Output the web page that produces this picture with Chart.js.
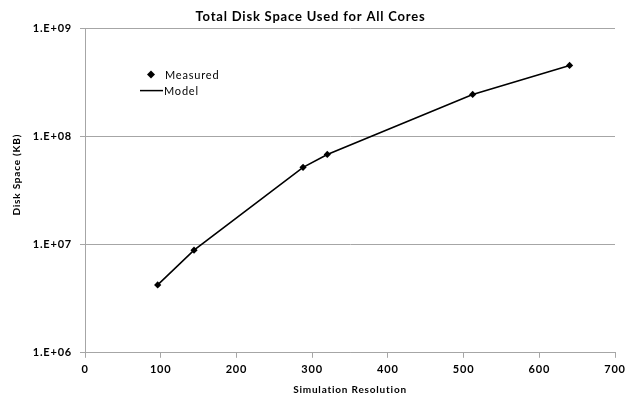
<!DOCTYPE html>
<html>
<head>
<meta charset="utf-8">
<script src="https://cdn.jsdelivr.net/npm/chart.js@4/dist/chart.umd.min.js"></script>
<style>
  html, body { margin: 0; padding: 0; background: #fff; }
  #wrap { width: 632px; height: 396px; }
</style>
</head>
<body>
<div id="wrap"><canvas id="c" width="632" height="396"></canvas></div>
<script>
// Simulation resolution and total disk space (KB) summed over all cores
const resolutions = [96, 144, 288, 320, 512, 640];
const measuredKB  = [4.25e6, 8.9e6, 5.2e7, 6.85e7, 2.46e8, 4.56e8];
const modelKB     = [4.25e6, 8.9e6, 5.2e7, 6.85e7, 2.46e8, 4.56e8];
const yTickValues = [1e6, 1e7, 1e8, 1e9];
const yTickLabels = ['1.E+06', '1.E+07', '1.E+08', '1.E+09'];
const seriesNames = ['Measured', 'Model'];
const yAxisTitle  = 'Disk Space (KB)';

const FONT = '"Lato", "Open Sans", sans-serif';
const GRID = '#a6a6a6';
const SPACING = '0.8px';

// Slightly tracked-out lettering for every text on the canvas
const tracking = {
  id: 'tracking',
  beforeLayout(chart) { chart.ctx.letterSpacing = SPACING; },
  beforeDraw(chart) { chart.ctx.letterSpacing = SPACING; }
};

// Rotated y axis title, placed a little above the axis middle
const yTitle = {
  id: 'yTitle',
  afterDraw(chart) {
    const ctx = chart.ctx;
    const a = chart.chartArea;
    ctx.save();
    ctx.font = 'bold 10px ' + FONT;
    ctx.letterSpacing = SPACING;
    ctx.fillStyle = '#000';
    ctx.textAlign = 'center';
    ctx.textBaseline = 'middle';
    ctx.translate(17, (a.top + a.bottom) / 2 - 16);
    ctx.rotate(-Math.PI / 2);
    ctx.fillText(yAxisTitle, 0, 0);
    ctx.restore();
  }
};

// Legend drawn inside the plot area, near the upper left
const innerLegend = {
  id: 'innerLegend',
  afterDraw(chart) {
    const ctx = chart.ctx;
    const a = chart.chartArea;
    const x0 = a.left + 55, y0 = a.top + 46;
    ctx.save();
    ctx.font = '11px ' + FONT;
    ctx.letterSpacing = SPACING;
    ctx.fillStyle = '#000';
    ctx.textBaseline = 'middle';
    // Measured: diamond marker
    ctx.beginPath();
    ctx.moveTo(x0 + 11, y0 - 4);
    ctx.lineTo(x0 + 15, y0);
    ctx.lineTo(x0 + 11, y0 + 4);
    ctx.lineTo(x0 + 7, y0);
    ctx.closePath();
    ctx.fill();
    ctx.fillText(seriesNames[0], x0 + 25, y0 + 1);
    // Model: line sample
    ctx.strokeStyle = '#000';
    ctx.lineWidth = 1.5;
    ctx.beginPath();
    ctx.moveTo(x0 + 0, y0 + 16);
    ctx.lineTo(x0 + 23, y0 + 16);
    ctx.stroke();
    ctx.fillText(seriesNames[1], x0 + 24, y0 + 17);
    ctx.restore();
  }
};

new Chart(document.getElementById('c'), {
  type: 'scatter',
  data: {
    datasets: [
      {
        label: seriesNames[0],
        data: resolutions.map((x, i) => ({ x, y: measuredKB[i] })),
        showLine: false,
        pointStyle: 'rectRot',
        pointRadius: 3.6,
        backgroundColor: '#000',
        borderColor: '#000',
        borderWidth: 0
      },
      {
        label: seriesNames[1],
        data: resolutions.map((x, i) => ({ x, y: modelKB[i] })),
        showLine: true,
        pointRadius: 0,
        borderColor: '#000',
        borderWidth: 1.6,
        backgroundColor: '#000'
      }
    ]
  },
  options: {
    responsive: false,
    animation: false,
    devicePixelRatio: 1,
    layout: { padding: { left: 6, right: 17, top: 0, bottom: 0 } },
    plugins: {
      legend: { display: false },
      tooltip: { enabled: false },
      title: {
        display: true,
        text: 'Total Disk Space Used for All Cores',
        color: '#000',
        font: { family: FONT, size: 13, weight: 'bold' },
        padding: { top: 9, bottom: 4 }
      }
    },
    scales: {
      x: {
        type: 'linear',
        min: 0,
        max: 700,
        ticks: {
          stepSize: 100,
          color: '#000',
          font: { family: FONT, size: 11, weight: 'bold' },
          padding: 5,
          maxRotation: 0
        },
        grid: { drawOnChartArea: false, drawTicks: true, tickLength: 5, color: GRID },
        border: { color: GRID, width: 1 },
        title: {
          display: true,
          text: 'Simulation Resolution',
          color: '#000',
          font: { family: FONT, size: 10, weight: 'bold' },
          padding: { top: 3, bottom: 0 }
        }
      },
      y: {
        type: 'logarithmic',
        min: yTickValues[0],
        max: yTickValues[yTickValues.length - 1],
        afterBuildTicks(scale) {
          scale.ticks = yTickValues.map(v => ({ value: v }));
        },
        afterFit(scale) { scale.width = 79; },
        ticks: {
          color: '#000',
          font: { family: FONT, size: 11, weight: 'bold' },
          padding: 8,
          callback: (v) => {
            const i = yTickValues.indexOf(v);
            return i >= 0 ? yTickLabels[i] : '';
          }
        },
        grid: { color: GRID, tickLength: 5, drawTicks: true },
        border: { color: GRID, width: 1 },
        title: { display: false }
      }
    }
  },
  plugins: [tracking, yTitle, innerLegend]
});
</script>
</body>
</html>
